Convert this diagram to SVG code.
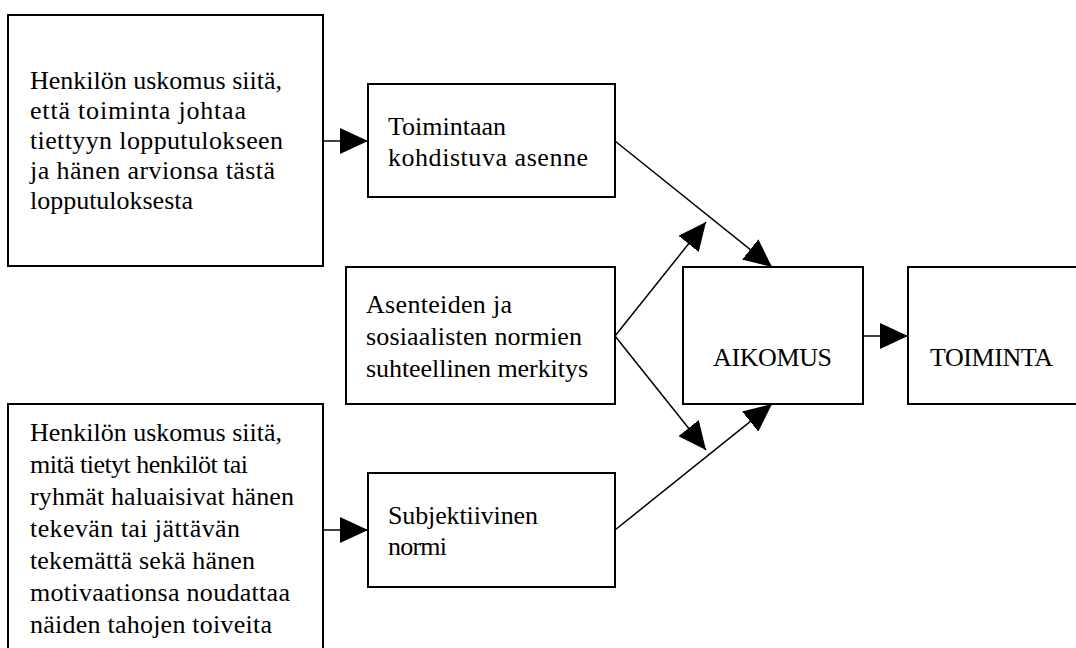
<svg xmlns="http://www.w3.org/2000/svg" width="1076" height="648" viewBox="0 0 1076 648">
<style>
.box{fill:#fff;stroke:#000;stroke-width:2}
.t{font-family:"Liberation Serif","Times New Roman",serif;font-size:26px;fill:#000}
.c{stroke:#000;stroke-width:1.5;fill:none;marker-end:url(#ah)}
</style>
<defs>
<marker id="ah" markerUnits="userSpaceOnUse" viewBox="0 0 28 26" refX="28" refY="13" markerWidth="28" markerHeight="26" orient="auto">
<path d="M0,0 L28,13 L0,26 z" fill="#000"/>
</marker>
</defs>
<rect width="1076" height="648" fill="#fff"/>
<g id="connectors">
<line class="c" x1="323" y1="141" x2="368" y2="141"/>
<line class="c" x1="323" y1="530" x2="368" y2="530"/>
<line class="c" x1="863" y1="336" x2="908" y2="336"/>
<line class="c" x1="615" y1="141" x2="772" y2="267"/>
<line class="c" x1="615" y1="336" x2="706" y2="222"/>
<line class="c" x1="615" y1="336" x2="706" y2="450"/>
<line class="c" x1="615" y1="530" x2="772" y2="404"/>
</g>
<g id="belief-outcome">
<rect class="box" x="8" y="15" width="315" height="251"/>
<text class="t" x="30" y="89" textLength="252" lengthAdjust="spacing">Henkilön uskomus siitä,</text>
<text class="t" x="30" y="119" textLength="216" lengthAdjust="spacing">että toiminta johtaa</text>
<text class="t" x="30" y="149" textLength="253" lengthAdjust="spacing">tiettyyn lopputulokseen</text>
<text class="t" x="30" y="179" textLength="245" lengthAdjust="spacing">ja hänen arvionsa tästä</text>
<text class="t" x="30" y="209" textLength="163" lengthAdjust="spacing">lopputuloksesta</text>
</g>
<g id="attitude">
<rect class="box" x="368" y="84" width="247" height="113"/>
<text class="t" x="388" y="135" textLength="118" lengthAdjust="spacing">Toimintaan</text>
<text class="t" x="388" y="166" textLength="200" lengthAdjust="spacing">kohdistuva asenne</text>
</g>
<g id="relative-weight">
<rect class="box" x="346" y="267" width="269" height="137"/>
<text class="t" x="366" y="313" textLength="146" lengthAdjust="spacing">Asenteiden ja</text>
<text class="t" x="366" y="345" textLength="216" lengthAdjust="spacing">sosiaalisten normien</text>
<text class="t" x="366" y="377" textLength="222" lengthAdjust="spacing">suhteellinen merkitys</text>
</g>
<g id="intention">
<rect class="box" x="683" y="267" width="180" height="137"/>
<text class="t" x="713" y="366" textLength="119" lengthAdjust="spacing">AIKOMUS</text>
</g>
<g id="behaviour">
<rect class="box" x="908" y="267" width="180" height="137"/>
<text class="t" x="930" y="366" textLength="123" lengthAdjust="spacing">TOIMINTA</text>
</g>
<g id="normative-belief">
<rect class="box" x="8" y="404" width="315" height="260"/>
<text class="t" x="30" y="441" textLength="252" lengthAdjust="spacing">Henkilön uskomus siitä,</text>
<text class="t" x="30" y="473" textLength="218" lengthAdjust="spacing">mitä tietyt henkilöt tai</text>
<text class="t" x="30" y="505" textLength="264" lengthAdjust="spacing">ryhmät haluaisivat hänen</text>
<text class="t" x="30" y="537" textLength="210" lengthAdjust="spacing">tekevän tai jättävän</text>
<text class="t" x="30" y="569" textLength="225" lengthAdjust="spacing">tekemättä sekä hänen</text>
<text class="t" x="30" y="601" textLength="260" lengthAdjust="spacing">motivaationsa noudattaa</text>
<text class="t" x="30" y="633" textLength="242" lengthAdjust="spacing">näiden tahojen toiveita</text>
</g>
<g id="subjective-norm">
<rect class="box" x="368" y="473" width="247" height="114"/>
<text class="t" x="388" y="524" textLength="150" lengthAdjust="spacing">Subjektiivinen</text>
<text class="t" x="388" y="555" textLength="59" lengthAdjust="spacing">normi</text>
</g>
</svg>
